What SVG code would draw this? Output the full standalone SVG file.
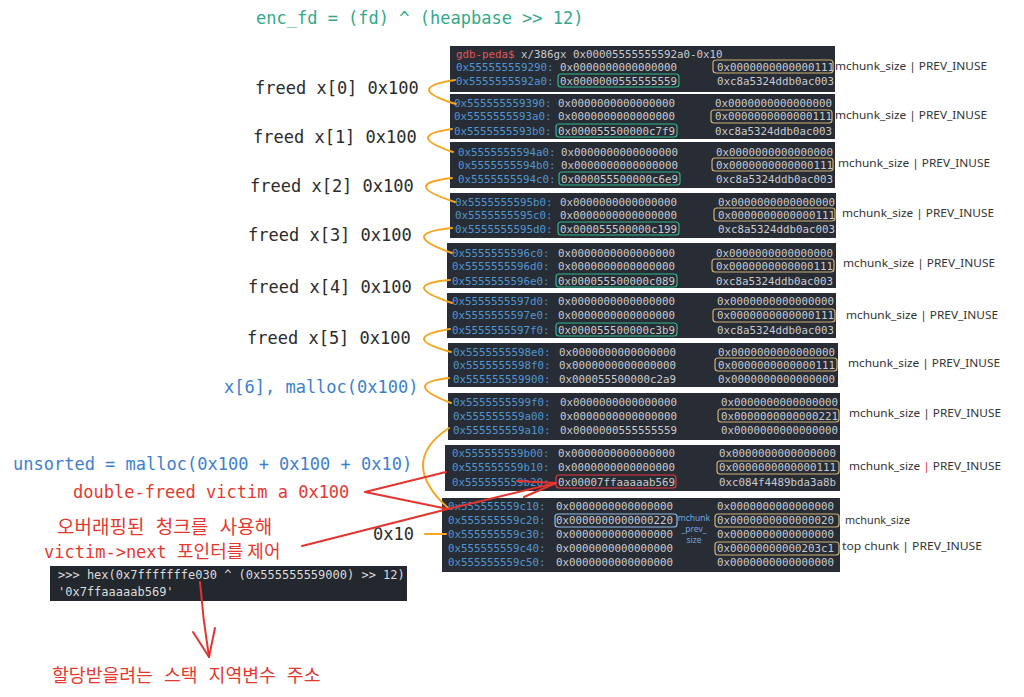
<svg xmlns="http://www.w3.org/2000/svg" width="1024" height="697" viewBox="0 0 1024 697">
<style>
.bg{fill:#ffffff}
.term{fill:#282c34}
.mono{font-family:"DejaVu Sans Mono","Liberation Mono",monospace;font-size:10.8px;fill:#c9cbcf}
.a{fill:#4f97d3}
.hdr{fill:#e0575b}
.yt{fill:none;stroke:#cdb077;stroke-width:1.2}
.gt{fill:none;stroke:#2fb68b;stroke-width:1.2}
.rt{fill:none;stroke:#e0393a;stroke-width:1.2}
.bt{fill:none;stroke:#8fbbe3;stroke-width:1.2}
.lbl{font-family:"DejaVu Sans Mono","Liberation Mono",monospace;font-size:17px;fill:#2b2b2b}
.blue{fill:#3e7fcd}
.redt{fill:#e3392f}
.kr{font-family:"DejaVu Sans Mono","Noto Sans CJK KR",monospace;font-size:19px;fill:#e3392f}
.side{font-family:"Noto Sans","Liberation Sans",sans-serif;font-size:10.5px;fill:#333333}
.small{font-family:"Noto Sans","Liberation Sans",sans-serif;font-size:8.5px;fill:#6fa6e0;text-anchor:middle}
.py{font-family:"DejaVu Sans Mono","Liberation Mono",monospace;font-size:12px;fill:#dcdcdc}
.or{fill:none;stroke:#f5a623;stroke-width:2;stroke-linecap:round}
.rd{fill:none;stroke:#e3342f;stroke-width:2;stroke-linecap:round;stroke-linejoin:round}
</style>
<rect class="bg" x="0" y="0" width="1024" height="697"/>

<g id="title">
<text x="256" y="24" class="lbl" style="fill:#33a98a">enc_fd = (fd) ^ (heapbase &gt;&gt; 12)</text>
</g>

<g id="chunk1">
<rect class="term" x="450" y="46" width="385" height="46"/>
<text class="mono" y="58"><tspan x="456" class="hdr">gdb-peda$</tspan> x/386gx 0x00005555555592a0-0x10</text>
<text class="mono" y="71"><tspan x="456" class="a">0x555555559290:</tspan><tspan x="560">0x0000000000000000</tspan><tspan x="717">0x0000000000000111</tspan></text>
<text class="mono" y="85"><tspan x="456" class="a">0x5555555592a0:</tspan><tspan x="560">0x0000000555555559</tspan><tspan x="717">0xc8a5324ddb0ac003</tspan></text>
<rect class="yt" x="713" y="60" width="120" height="13" rx="3"/>
<rect class="gt" x="558" y="74" width="121" height="13" rx="3"/>
</g>

<g id="chunk2">
<rect class="term" x="450" y="94" width="385" height="45"/>
<text class="mono" y="107"><tspan x="454" class="a">0x555555559390:</tspan><tspan x="558">0x0000000000000000</tspan><tspan x="715">0x0000000000000000</tspan></text>
<text class="mono" y="120"><tspan x="454" class="a">0x5555555593a0:</tspan><tspan x="558">0x0000000000000000</tspan><tspan x="715">0x0000000000000111</tspan></text>
<text class="mono" y="135"><tspan x="454" class="a">0x5555555593b0:</tspan><tspan x="558">0x000055500000c7f9</tspan><tspan x="715">0xc8a5324ddb0ac003</tspan></text>
<rect class="yt" x="711" y="110" width="121" height="13" rx="3"/>
<rect class="gt" x="556" y="124" width="121" height="13" rx="3"/>
</g>

<g id="chunk3">
<rect class="term" x="450" y="142" width="385" height="46"/>
<text class="mono" y="156"><tspan x="458" class="a">0x5555555594a0:</tspan><tspan x="561">0x0000000000000000</tspan><tspan x="716">0x0000000000000000</tspan></text>
<text class="mono" y="169"><tspan x="458" class="a">0x5555555594b0:</tspan><tspan x="561">0x0000000000000000</tspan><tspan x="716">0x0000000000000111</tspan></text>
<text class="mono" y="183"><tspan x="458" class="a">0x5555555594c0:</tspan><tspan x="561">0x000055500000c6e9</tspan><tspan x="716">0xc8a5324ddb0ac003</tspan></text>
<rect class="yt" x="712" y="158" width="121" height="13" rx="3"/>
<rect class="gt" x="559" y="172" width="121" height="13" rx="3"/>
</g>

<g id="chunk4">
<rect class="term" x="450" y="193" width="386" height="45"/>
<text class="mono" y="206"><tspan x="455" class="a">0x5555555595b0:</tspan><tspan x="560">0x0000000000000000</tspan><tspan x="718">0x0000000000000000</tspan></text>
<text class="mono" y="219"><tspan x="455" class="a">0x5555555595c0:</tspan><tspan x="560">0x0000000000000000</tspan><tspan x="718">0x0000000000000111</tspan></text>
<text class="mono" y="233"><tspan x="455" class="a">0x5555555595d0:</tspan><tspan x="560">0x000055500000c199</tspan><tspan x="718">0xc8a5324ddb0ac003</tspan></text>
<rect class="yt" x="714" y="208" width="121" height="13" rx="3"/>
<rect class="gt" x="558" y="222" width="121" height="13" rx="3"/>
</g>

<g id="chunk5">
<rect class="term" x="447" y="243" width="389" height="45"/>
<text class="mono" y="257"><tspan x="452" class="a">0x5555555596c0:</tspan><tspan x="558">0x0000000000000000</tspan><tspan x="716">0x0000000000000000</tspan></text>
<text class="mono" y="270"><tspan x="452" class="a">0x5555555596d0:</tspan><tspan x="558">0x0000000000000000</tspan><tspan x="716">0x0000000000000111</tspan></text>
<text class="mono" y="285"><tspan x="452" class="a">0x5555555596e0:</tspan><tspan x="558">0x000055500000c089</tspan><tspan x="716">0xc8a5324ddb0ac003</tspan></text>
<rect class="yt" x="712" y="259" width="122" height="13" rx="3"/>
<rect class="gt" x="556" y="274" width="121" height="13" rx="3"/>
</g>

<g id="chunk6">
<rect class="term" x="447" y="293" width="389" height="45"/>
<text class="mono" y="305"><tspan x="452" class="a">0x5555555597d0:</tspan><tspan x="558">0x0000000000000000</tspan><tspan x="717">0x0000000000000000</tspan></text>
<text class="mono" y="319"><tspan x="452" class="a">0x5555555597e0:</tspan><tspan x="558">0x0000000000000000</tspan><tspan x="717">0x0000000000000111</tspan></text>
<text class="mono" y="334"><tspan x="452" class="a">0x5555555597f0:</tspan><tspan x="558">0x000055500000c3b9</tspan><tspan x="717">0xc8a5324ddb0ac003</tspan></text>
<rect class="yt" x="713" y="309" width="122" height="13" rx="3"/>
<rect class="gt" x="556" y="323" width="121" height="13" rx="3"/>
</g>

<g id="chunk7">
<rect class="term" x="448" y="343" width="390" height="44"/>
<text class="mono" y="356"><tspan x="453" class="a">0x5555555598e0:</tspan><tspan x="559">0x0000000000000000</tspan><tspan x="718">0x0000000000000000</tspan></text>
<text class="mono" y="369"><tspan x="453" class="a">0x5555555598f0:</tspan><tspan x="559">0x0000000000000000</tspan><tspan x="718">0x0000000000000111</tspan></text>
<text class="mono" y="383"><tspan x="453" class="a">0x555555559900:</tspan><tspan x="559">0x000055500000c2a9</tspan><tspan x="718">0x0000000000000000</tspan></text>
<rect class="yt" x="715" y="358" width="122" height="13" rx="3"/>
</g>

<g id="chunk8">
<rect class="term" x="448" y="393" width="392" height="47"/>
<text class="mono" y="406"><tspan x="453" class="a">0x5555555599f0:</tspan><tspan x="560">0x0000000000000000</tspan><tspan x="721">0x0000000000000000</tspan></text>
<text class="mono" y="420"><tspan x="453" class="a">0x555555559a00:</tspan><tspan x="560">0x0000000000000000</tspan><tspan x="721">0x0000000000000221</tspan></text>
<text class="mono" y="434"><tspan x="453" class="a">0x555555559a10:</tspan><tspan x="560">0x0000000555555559</tspan><tspan x="721">0x0000000000000000</tspan></text>
<rect class="yt" x="718" y="409" width="121" height="13" rx="3"/>
</g>

<g id="chunk9">
<rect class="term" x="445" y="445" width="395" height="46"/>
<text class="mono" y="457"><tspan x="452" class="a">0x555555559b00:</tspan><tspan x="558">0x0000000000000000</tspan><tspan x="719">0x0000000000000000</tspan></text>
<text class="mono" y="471"><tspan x="452" class="a">0x555555559b10:</tspan><tspan x="558">0x0000000000000000</tspan><tspan x="719">0x0000000000000111</tspan></text>
<text class="mono" y="486"><tspan x="452" class="a">0x555555559b20:</tspan><tspan x="558">0x00007ffaaaaab569</tspan><tspan x="719">0xc084f4489bda3a8b</tspan></text>
<rect class="yt" x="717" y="461" width="122" height="13" rx="3"/>
<rect class="rt" x="556" y="475" width="120" height="13" rx="3"/>
</g>

<g id="chunk10">
<rect class="term" x="442" y="498" width="398" height="74"/>
<text class="mono" y="510"><tspan x="448" class="a">0x555555559c10:</tspan><tspan x="556">0x0000000000000000</tspan><tspan x="717">0x0000000000000000</tspan></text>
<text class="mono" y="524"><tspan x="448" class="a">0x555555559c20:</tspan><tspan x="556">0x0000000000000220</tspan><tspan x="717">0x0000000000000020</tspan></text>
<text class="mono" y="538"><tspan x="448" class="a">0x555555559c30:</tspan><tspan x="556">0x0000000000000000</tspan><tspan x="717">0x0000000000000000</tspan></text>
<text class="mono" y="552"><tspan x="448" class="a">0x555555559c40:</tspan><tspan x="556">0x0000000000000000</tspan><tspan x="717">0x00000000000203c1</tspan></text>
<text class="mono" y="566"><tspan x="448" class="a">0x555555559c50:</tspan><tspan x="556">0x0000000000000000</tspan><tspan x="717">0x0000000000000000</tspan></text>
<rect class="bt" x="555" y="514" width="122" height="13" rx="3"/>
<rect class="yt" x="715" y="514" width="124" height="13" rx="3"/>
<rect class="yt" x="715" y="542" width="124" height="13" rx="3"/>
<text class="small" x="694" y="521">mchunk</text>
<text class="small" x="694" y="532">_prev_</text>
<text class="small" x="694" y="543">size</text>
</g>

<g id="side-labels">
<text class="side" x="835" y="70" textLength="152" lengthAdjust="spacingAndGlyphs">mchunk_size | PREV_INUSE</text>
<text class="side" x="835" y="119" textLength="152" lengthAdjust="spacingAndGlyphs">mchunk_size | PREV_INUSE</text>
<text class="side" x="838" y="167" textLength="152" lengthAdjust="spacingAndGlyphs">mchunk_size | PREV_INUSE</text>
<text class="side" x="842" y="217" textLength="152" lengthAdjust="spacingAndGlyphs">mchunk_size | PREV_INUSE</text>
<text class="side" x="843" y="267" textLength="152" lengthAdjust="spacingAndGlyphs">mchunk_size | PREV_INUSE</text>
<text class="side" x="846" y="319" textLength="152" lengthAdjust="spacingAndGlyphs">mchunk_size | PREV_INUSE</text>
<text class="side" x="848" y="367" textLength="152" lengthAdjust="spacingAndGlyphs">mchunk_size | PREV_INUSE</text>
<text class="side" x="849" y="417" textLength="152" lengthAdjust="spacingAndGlyphs">mchunk_size | PREV_INUSE</text>
<text class="side" x="849" y="470" textLength="152" lengthAdjust="spacingAndGlyphs">mchunk_size <tspan fill="#e3342f">|</tspan> PREV_INUSE</text>
<text class="side" x="845" y="524" textLength="65" lengthAdjust="spacingAndGlyphs">mchunk_size</text>
<text class="side" x="842" y="550" textLength="140" lengthAdjust="spacingAndGlyphs">top chunk | PREV_INUSE</text>
</g>

<g id="left-labels">
<text class="lbl" x="255" y="94">freed x[0] 0x100</text>
<text class="lbl" x="253" y="143">freed x[1] 0x100</text>
<text class="lbl" x="250" y="192">freed x[2] 0x100</text>
<text class="lbl" x="248" y="241">freed x[3] 0x100</text>
<text class="lbl" x="248" y="293">freed x[4] 0x100</text>
<text class="lbl" x="247" y="344">freed x[5] 0x100</text>
<text class="lbl blue" x="224" y="393">x[6], malloc(0x100)</text>
<text class="lbl blue" x="13" y="470">unsorted = malloc(0x100 + 0x100 + 0x10)</text>
<text class="lbl redt" x="73" y="498">double-freed victim a 0x100</text>
<text class="lbl" x="373" y="540">0x10</text>
<text class="kr" x="57" y="534">오버래핑된 청크를 사용해</text>
<text class="lbl redt" x="44" y="558">victim-&gt;next <tspan style="font-family:'Noto Sans CJK KR',sans-serif;font-size:18px">포인터를 제어</tspan></text>
</g>

<g id="python-term">
<rect class="term" x="50" y="566" width="357" height="35" style="fill:#23272e"/>
<text class="py" x="58" y="579">&gt;&gt;&gt; hex(0x7fffffffe030 ^ (0x555555559000) &gt;&gt; 12)</text>
<text class="py" x="58" y="596">'0x7ffaaaaab569'</text>
</g>

<g id="bottom-label">
<text class="kr" x="52" y="682" style="font-size:18.3px">할당받을려는 스택 지역변수 주소</text>
</g>

<g id="connectors">
<path class="or" d="M455 80 Q402.5 88 456 104"/>
<path class="or" d="M452 129 Q403.5 135.5 453 152"/>
<path class="or" d="M452 178 Q398.5 184 455 202"/>
<path class="or" d="M452 228 Q396 233.5 452 253"/>
<path class="or" d="M450 280 Q397 284.5 452 303"/>
<path class="or" d="M450 329 Q397.5 337.5 451 352"/>
<path class="or" d="M449 378 Q400 383.5 451 403"/>
<path class="or" d="M449 428 Q397.5 462 448 508"/>
<path class="or" d="M425 534 L446 534"/>
<path class="rd" d="M446 472 L365 492 L448 509"/>
<path class="rd" d="M302 546 L448 509 L556 483"/>
<path class="rd" d="M517 481 L556 483 L524 497"/>
<path class="rd" d="M200 582 Q203 620 209 657"/>
<path class="rd" d="M193 632 L209 657 L215 628"/>
</g>
</svg>
